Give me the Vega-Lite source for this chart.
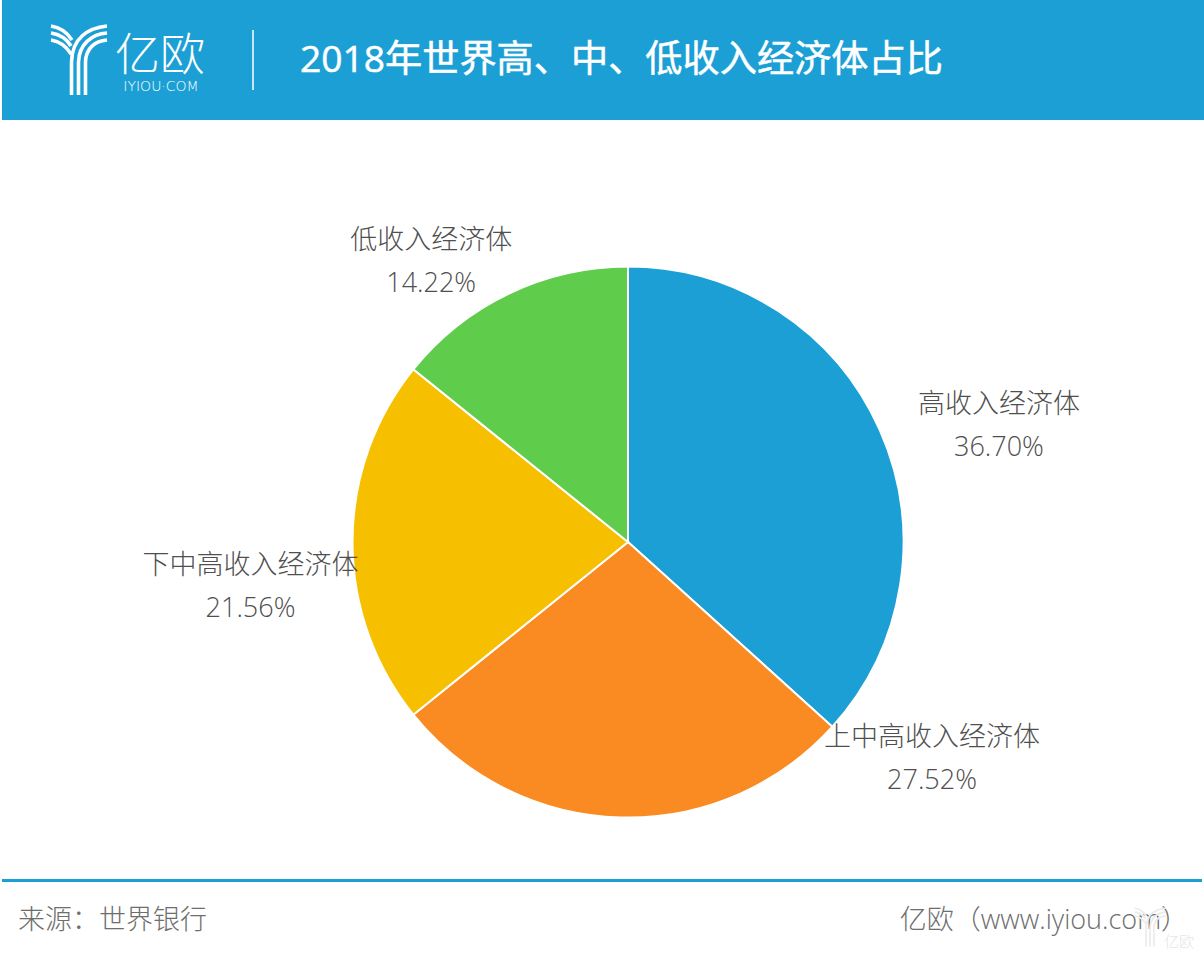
{
  "$schema": "https://vega.github.io/schema/vega-lite/v6.json",
  "description": "2018年世界高、中、低收入经济体占比",
  "padding": {"left": 2, "top": 0, "right": 0, "bottom": 0},
  "spacing": 0,
  "background": "white",
  "config": {
    "view": {"stroke": null},
    "axis": {"disable": true},
    "text": {"font": "Open Sans, Noto Sans CJK SC", "fontWeight": 300}
  },
  "datasets": {
    "shares": [
      {"name": "高收入经济体", "share": 0.3670, "order": 1},
      {"name": "上中高收入经济体", "share": 0.2752, "order": 2},
      {"name": "下中高收入经济体", "share": 0.2156, "order": 3},
      {"name": "低收入经济体", "share": 0.1422, "order": 4}
    ]
  },
  "vconcat": [
    {
      "width": 1202,
      "height": 120,
      "view": {"fill": "#1c9fd5", "stroke": null},
      "layer": [
        {
          "data": {"values": [{"label": "logo"}]},
          "mark": {"type": "point", "filled": false, "stroke": "white", "strokeWidth": 3.6, "opacity": 1, "size": 5184, "shape": "M.792 -.944C.264 -.889 -.181 -.611 -.194 .056V.972M.792 -.75C.375 -.722 .014 -.444 0 .056V.972M.792 -.556C.458 -.528 .208 -.333 .194 .056V.972M-.764 -.944C-.569 -.917 -.347 -.806 -.181 -.556M-.764 -.75C-.569 -.722 -.347 -.611 -.208 -.389M-.764 -.556C-.569 -.528 -.347 -.389 -.208 -.167"},
          "encoding": {
            "x": {"datum": 78.5, "type": "quantitative", "scale": {"domain": [2, 1204], "nice": false, "zero": false}},
            "y": {"datum": 60, "type": "quantitative", "scale": {"domain": [0, 120], "reverse": true, "nice": false, "zero": false}}
          }
        },
        {
          "data": {"values": [{"label": "亿欧"}]},
          "mark": {"type": "text", "align": "center", "baseline": "middle", "color": "white", "fontSize": 45, "fontWeight": 300, "font": "Noto Sans CJK SC"},
          "encoding": {
            "x": {"datum": 160, "type": "quantitative"},
            "y": {"datum": 57, "type": "quantitative"},
            "text": {"field": "label"}
          }
        },
        {
          "data": {"values": [{"label": "IYIOU·COM"}]},
          "mark": {"type": "text", "align": "center", "baseline": "middle", "color": "white", "fontSize": 14, "font": "DejaVu Sans"},
          "encoding": {
            "x": {"datum": 161, "type": "quantitative"},
            "y": {"datum": 87, "type": "quantitative"},
            "text": {"field": "label"}
          }
        },
        {
          "data": {"values": [{"label": "sep"}]},
          "mark": {"type": "rule", "color": "white", "strokeWidth": 1.5},
          "encoding": {
            "x": {"datum": 253, "type": "quantitative"},
            "y": {"datum": 30, "type": "quantitative"},
            "y2": {"datum": 90}
          }
        },
        {
          "data": {"values": [{"label": "2018年世界高、中、低收入经济体占比"}]},
          "mark": {"type": "text", "align": "left", "baseline": "middle", "color": "white", "stroke": "white", "strokeWidth": 0.5, "fontSize": 37.2, "fontWeight": 400},
          "encoding": {
            "x": {"datum": 300, "type": "quantitative"},
            "y": {"datum": 61, "type": "quantitative"},
            "text": {"field": "label"}
          }
        }
      ]
    },
    {
      "width": 1202,
      "height": 758,
      "data": {"name": "shares"},
      "transform": [
        {"stack": "share", "groupby": [], "sort": [{"field": "order", "order": "ascending"}], "as": ["a0", "a1"]},
        {"calculate": "(datum.a0 + datum.a1) / 2", "as": "mid"},
        {"calculate": "datum.name + '\\n' + format(datum.share, '.2%')", "as": "label"}
      ],
      "layer": [
        {
          "mark": {"type": "arc", "outerRadius": 275.5, "stroke": "white", "strokeWidth": 2, "xOffset": 25, "yOffset": 43},
          "encoding": {
            "theta": {"field": "a0", "type": "quantitative", "scale": {"domain": [0, 1]}},
            "theta2": {"field": "a1"},
            "color": {
              "field": "name",
              "type": "nominal",
              "legend": null,
              "scale": {
                "domain": ["高收入经济体", "上中高收入经济体", "下中高收入经济体", "低收入经济体"],
                "range": ["#1c9fd5", "#f98b22", "#f6c000", "#5fcc4b"]
              }
            }
          }
        },
        {
          "transform": [{"filter": "datum.order == 1"}],
          "mark": {"type": "text", "radius": 275, "align": "center", "baseline": "middle", "fontSize": 27, "lineHeight": 43, "lineBreak": "\n", "color": "#4f4f4f", "xOffset": 25, "yOffset": 43, "dx": 119.6, "dy": -25.9},
          "encoding": {
            "theta": {"field": "mid", "type": "quantitative", "stack": null},
            "text": {"field": "label"}
          }
        },
        {
          "transform": [{"filter": "datum.order == 2"}],
          "mark": {"type": "text", "radius": 275, "align": "center", "baseline": "middle", "fontSize": 27, "lineHeight": 43, "lineBreak": "\n", "color": "#4f4f4f", "xOffset": 25, "yOffset": 43, "dx": 312, "dy": -78.4},
          "encoding": {
            "theta": {"field": "mid", "type": "quantitative", "stack": null},
            "text": {"field": "label"}
          }
        },
        {
          "transform": [{"filter": "datum.order == 3"}],
          "mark": {"type": "text", "radius": 275, "align": "center", "baseline": "middle", "fontSize": 27, "lineHeight": 43, "lineBreak": "\n", "color": "#4f4f4f", "xOffset": 25, "yOffset": 43, "dx": -102.5, "dy": 23.5},
          "encoding": {
            "theta": {"field": "mid", "type": "quantitative", "stack": null},
            "text": {"field": "label"}
          }
        },
        {
          "transform": [{"filter": "datum.order == 4"}],
          "mark": {"type": "text", "radius": 275, "align": "center", "baseline": "middle", "fontSize": 27, "lineHeight": 43, "lineBreak": "\n", "color": "#4f4f4f", "xOffset": 25, "yOffset": 43, "dx": -78, "dy": -53},
          "encoding": {
            "theta": {"field": "mid", "type": "quantitative", "stack": null},
            "text": {"field": "label"}
          }
        }
      ]
    },
    {
      "width": 1202,
      "height": 80,
      "layer": [
        {
          "data": {"values": [{"label": "line"}]},
          "mark": {"type": "rect", "color": "#1c9fd5"},
          "encoding": {
            "x": {"datum": 2, "type": "quantitative", "scale": {"domain": [2, 1204], "nice": false, "zero": false}},
            "x2": {"datum": 1202},
            "y": {"datum": 879, "type": "quantitative", "scale": {"domain": [878, 958], "reverse": true, "nice": false, "zero": false}},
            "y2": {"datum": 882}
          }
        },
        {
          "data": {"values": [{"label": "来源：世界银行"}]},
          "mark": {"type": "text", "align": "left", "baseline": "middle", "color": "#6e6e6e", "fontSize": 27},
          "encoding": {
            "x": {"datum": 18, "type": "quantitative"},
            "y": {"datum": 921, "type": "quantitative"},
            "text": {"field": "label"}
          }
        },
        {
          "data": {"values": [{"label": "亿欧（www.iyiou.com）"}]},
          "mark": {"type": "text", "align": "right", "baseline": "middle", "color": "#6e6e6e", "fontSize": 27},
          "encoding": {
            "x": {"datum": 1188, "type": "quantitative"},
            "y": {"datum": 921, "type": "quantitative"},
            "text": {"field": "label"}
          }
        },
        {
          "data": {"values": [{"label": "watermark"}]},
          "mark": {"type": "point", "filled": false, "stroke": "#ececec", "strokeWidth": 1.8, "opacity": 1, "size": 1600, "shape": "M.792 -.944C.264 -.889 -.181 -.611 -.194 .056V.972M.792 -.75C.375 -.722 .014 -.444 0 .056V.972M.792 -.556C.458 -.528 .208 -.333 .194 .056V.972M-.764 -.944C-.569 -.917 -.347 -.806 -.181 -.556M-.764 -.75C-.569 -.722 -.347 -.611 -.208 -.389M-.764 -.556C-.569 -.528 -.347 -.389 -.208 -.167"},
          "encoding": {
            "x": {"datum": 1150, "type": "quantitative"},
            "y": {"datum": 927, "type": "quantitative"}
          }
        },
        {
          "data": {"values": [{"label": "亿欧"}]},
          "mark": {"type": "text", "align": "center", "baseline": "middle", "color": "#e6e6e6", "fontSize": 15, "font": "Noto Sans CJK SC"},
          "encoding": {
            "x": {"datum": 1179, "type": "quantitative"},
            "y": {"datum": 942, "type": "quantitative"},
            "text": {"field": "label"}
          }
        }
      ]
    }
  ]
}
